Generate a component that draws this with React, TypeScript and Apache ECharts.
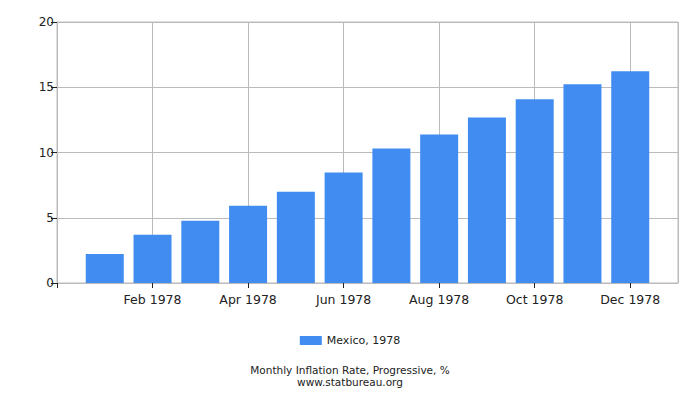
import { useEffect, useRef } from 'react'
import * as echarts from 'echarts'

const months = ['Jan', 'Feb', 'Mar', 'Apr', 'May', 'Jun', 'Jul', 'Aug', 'Sep', 'Oct', 'Nov', 'Dec']
const year = '1978'
const seriesName = 'Mexico, 1978'
const values = [2.23, 3.69, 4.77, 5.92, 7.0, 8.46, 10.31, 11.38, 12.69, 14.08, 15.23, 16.23]
const titleLines = ['Monthly Inflation Rate, Progressive, %', 'www.statbureau.org']

const font = 'DejaVu Sans, Verdana, sans-serif'

export default function App() {
  const chartRef = useRef<HTMLDivElement | null>(null)

  useEffect(() => {
    if (!chartRef.current) return
    const chart = echarts.init(chartRef.current, undefined, { renderer: 'svg' })

    const titleStyle = { fontSize: 10.5, fontWeight: 'normal', color: '#222', fontFamily: font, lineHeight: 12 }

    chart.setOption({
      animation: false,
      backgroundColor: '#ffffff',
      textStyle: { fontFamily: font },
      title: [
        { text: titleLines[0], left: 'center', top: 364, padding: 0, textStyle: titleStyle },
        { text: titleLines[1], left: 'center', top: 376, padding: 0, textStyle: titleStyle }
      ],
      legend: {
        data: [seriesName],
        left: 'center',
        top: 330,
        itemWidth: 22,
        itemHeight: 9,
        itemGap: 4,
        icon: 'rect',
        textStyle: { fontSize: 11, color: '#222', fontFamily: font }
      },
      grid: {
        left: 57,
        right: 22,
        top: 22,
        height: 261,
        show: true,
        borderColor: '#bbbbbb',
        borderWidth: 1
      },
      xAxis: {
        type: 'value',
        min: 0,
        max: 13,
        interval: 2,
        axisLine: { show: true, lineStyle: { color: '#bbbbbb' } },
        axisTick: { show: true, length: 5, lineStyle: { color: '#222' } },
        splitLine: { show: true, lineStyle: { color: '#bbbbbb' } },
        axisLabel: {
          color: '#222',
          fontSize: 12.5,
          fontFamily: font,
          margin: 10,
          showMaxLabel: false,
          formatter: (v: number) => (v >= 1 && v <= 12 ? `${months[v - 1]} ${year}` : '')
        }
      },
      yAxis: {
        type: 'value',
        min: 0,
        max: 20,
        interval: 5,
        axisLine: { show: true, lineStyle: { color: '#bbbbbb' } },
        axisTick: { show: true, length: 6, lineStyle: { color: '#222' } },
        splitLine: { show: true, lineStyle: { color: '#bbbbbb' } },
        axisLabel: { color: '#222', fontSize: 12, fontFamily: font, margin: 3 }
      },
      series: [
        {
          type: 'bar',
          name: seriesName,
          data: values.map((v, i) => [i + 1, v]),
          barWidth: 38,
          itemStyle: { color: '#418cf0' }
        }
      ]
    })

    return () => chart.dispose()
  }, [])

  return <div ref={chartRef} style={{ width: 700, height: 400, position: 'absolute', left: 0, top: 0 }} />
}
